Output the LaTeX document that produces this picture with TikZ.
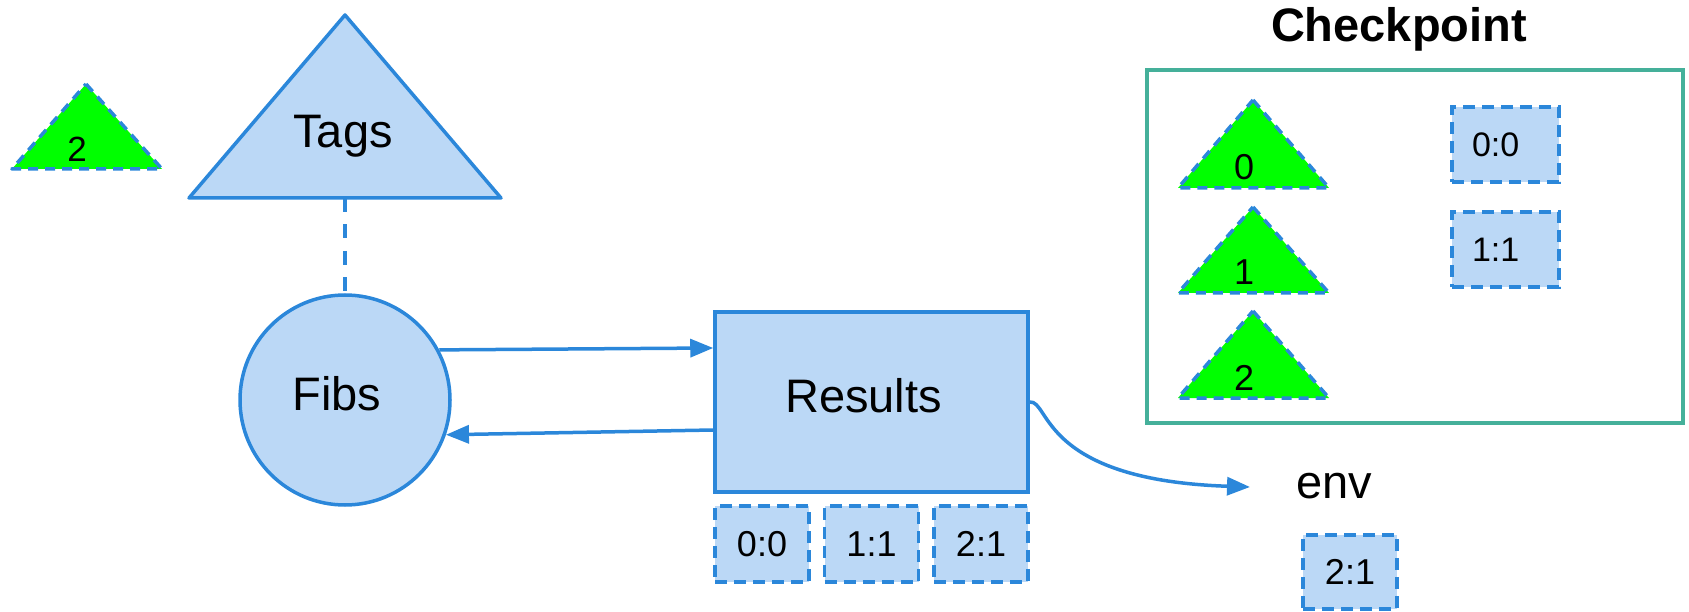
\documentclass[tikz,border=0pt]{standalone}
\usepackage{fontspec}
\setmainfont{Liberation Sans}
\usetikzlibrary{arrows.meta,calc}
\definecolor{strokeblue}{HTML}{2B87DA}
\definecolor{fillblue}{HTML}{BBD8F6}
\definecolor{tagreen}{HTML}{00FF00}
\definecolor{frameteal}{HTML}{45B09A}
\begin{document}
\begin{tikzpicture}[x=1pt,y=-1pt,
  big/.style={font=\fontsize{47}{50}\selectfont},
  lbl/.style={font=\fontsize{36}{40}\selectfont},
  shapeline/.style={draw=strokeblue, line width=3.5pt, fill=fillblue},
  chip/.style={draw=strokeblue, line width=3.5pt, fill=fillblue, dash pattern=on 12pt off 7pt, inner sep=0pt, font=\fontsize{36}{40}\selectfont},
  cpchip/.style={chip, minimum width=107pt, minimum height=75pt, text width=67pt, inner xsep=20pt, align=left, font=\fontsize{34}{38}\selectfont},
  tagtri/.style={draw=strokeblue, line width=3.5pt, fill=tagreen, dash pattern=on 10pt off 7pt, line join=round},
  flow/.style={draw=strokeblue, line width=3.5pt, -{Triangle[length=23pt,width=18pt]}},
  dashlink/.style={draw=strokeblue, line width=3.5pt, dash pattern=on 14pt off 12.5pt},
  raised/.style={text height=33.6pt, text depth=12pt},
]
\useasboundingbox (0,0) rectangle (1689,612);

% top-left tag triangle
\path[tagtri] (86,84) -- (162,169) -- (12,169) -- cycle;
\node[lbl, font=\fontsize{35}{40}\selectfont, anchor=base] (t2a) at (77,162) {2};

% Tags triangle
\path[shapeline, line join=round] (345,15) -- (501,198) -- (189,198) -- cycle;
\node[big, anchor=base] (tags) at (343,148) {Tags};
\coordinate (tagsbase) at (345,198);

% Fibs
\node[shapeline, circle, minimum size=210pt, inner sep=0pt, big, raised] (fibs) at (345,400) {Fibs\kern16pt};
\draw[dashlink] (tagsbase) -- (fibs.north);

% Results
\node[shapeline, rectangle, minimum width=313pt, minimum height=180pt, big, raised] (res) at (871.5,402) {Results\kern16pt};
\node[chip, minimum width=94pt, minimum height=76pt] (r00) at (762,544) {0:0};
\node[chip, minimum width=94pt, minimum height=76pt] (r11) at (871.5,544) {1:1};
\node[chip, minimum width=94pt, minimum height=76pt] (r21) at (981,544) {2:1};

\draw[flow] (fibs.28) -- ($(res.west)+(0,-54)$);
\draw[flow] ($(res.west)+(0,28)$) -- (fibs.-19);

% env
\coordinate (envtip) at (1250,487);
\draw[flow] (res.east) .. controls (1050,400) and (1040,480) .. (envtip);
\node[big, anchor=base] (env) at (1334,498) {env};
\node[chip, minimum width=94pt, minimum height=74pt] (e21) at (1350,572) {2:1};

% Checkpoint
\node[font=\bfseries\fontsize{47}{50}\selectfont, anchor=base] (cptitle) at (1399,42) {Checkpoint};
\node[draw=frameteal, line width=3.5pt, minimum width=536pt, minimum height=353pt, inner sep=0pt] (cp) at (1415,246.5) {};

\path[tagtri] (1253,100) -- (1329,188) -- (1178,188) -- cycle;
\node[lbl, anchor=base] (c0) at (1244,180) {0};
\path[tagtri] (1253,207) -- (1329,293) -- (1178,293) -- cycle;
\node[lbl, anchor=base] (c1) at (1244,285) {1};
\path[tagtri] (1253,311) -- (1329,398) -- (1178,398) -- cycle;
\node[lbl, anchor=base] (c2) at (1244,390) {2};

\node[cpchip] (c00) at (1505.5,144.5) {0:0};
\node[cpchip] (c11) at (1505.5,249.5) {1:1};
\end{tikzpicture}
\end{document}
